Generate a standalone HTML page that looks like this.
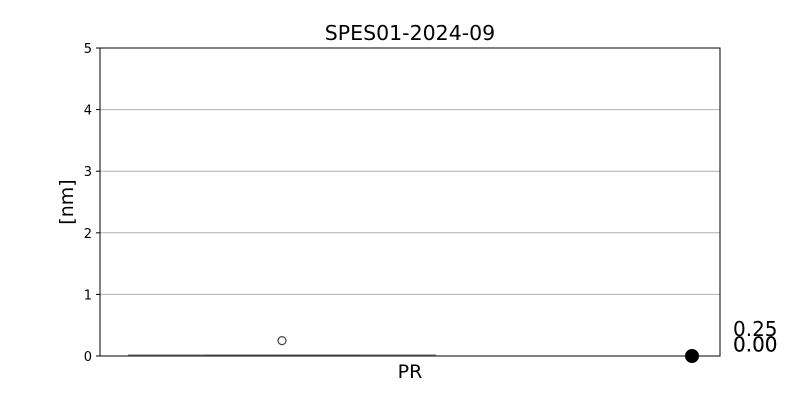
<!DOCTYPE html>
<html><head><meta charset="utf-8"><style>body{margin:0;background:#fff}svg{display:block;font-family:"DejaVu Sans","Liberation Sans",sans-serif}</style></head>
<body>
<svg id="c" width="800" height="400">
<text x="410" y="40" text-anchor="middle" font-size="20.5">SPES01-2024-09</text>
<text x="0" y="0" transform="translate(73,202) rotate(-90)" text-anchor="middle" font-size="19">[nm]</text>
<text x="410" y="378" text-anchor="middle" font-size="19">PR</text>
<g id="grid"></g><g id="marks"></g>
<rect x="100" y="48" width="620" height="308" fill="none" stroke="#000" stroke-width="1"/>
</svg>
<script>
const yTicks=[0,1,2,3,4,5];
const boxStats=[0,0,0,0,0]; // whiskerLo, q1, median, q3, whiskerHi
const outliers=[0.25];
const sideLabels=[0.25,0.00,0.00];
const sideDot=[0];
const X0=100,X1=720,Y0=356,Y1=48,YMAX=5;
const y=v=>Y0-(v/YMAX)*(Y0-Y1);
const ns="http://www.w3.org/2000/svg";
function mk(t,a,p){const e=document.createElementNS(ns,t);for(const k in a)e.setAttribute(k,a[k]);p.appendChild(e);return e;}
const g=document.getElementById('grid'),m=document.getElementById('marks');
yTicks.forEach(t=>{
 if(t>0&&t<YMAX){const l=mk('line',{x1:X0,x2:X1,y1:y(t),y2:y(t),stroke:'#b0b0b0','stroke-width':1},g);
 
 }
 const tk=mk('line',{x1:X0-4,x2:X0,y1:y(t),y2:y(t),stroke:'#000'},g);
 
 
 const tx=mk('text',{x:X0-8,y:y(t)+5,'text-anchor':'end','font-size':13},g);tx.textContent=t;
 
 
});
const wh=mk('line',{x1:128,x2:436,y1:y(boxStats[0])-1,y2:y(boxStats[4])-1,stroke:'#888','stroke-width':1.2},m);


const bx=mk('rect',{x:205,y:y(boxStats[3])-1.5,width:155,height:Math.max(1,y(boxStats[1])-y(boxStats[3]))+0.5,fill:'#777'},m);


outliers.forEach((v,i)=>{const c=mk('circle',{cx:282,cy:y(v),r:4,fill:'none',stroke:'#444','stroke-width':1.2},m);
 
 });
sideDot.forEach((v,i)=>{const c=mk('circle',{cx:692,cy:y(v),r:7,fill:'#000'},m);
 
 });
sideLabels.forEach((v,i)=>{const t=mk('text',{x:733,y:y(v)-4.5,'font-size':20},m);
 t.textContent=v.toFixed(2);
 
 });
</script>
</body></html>
